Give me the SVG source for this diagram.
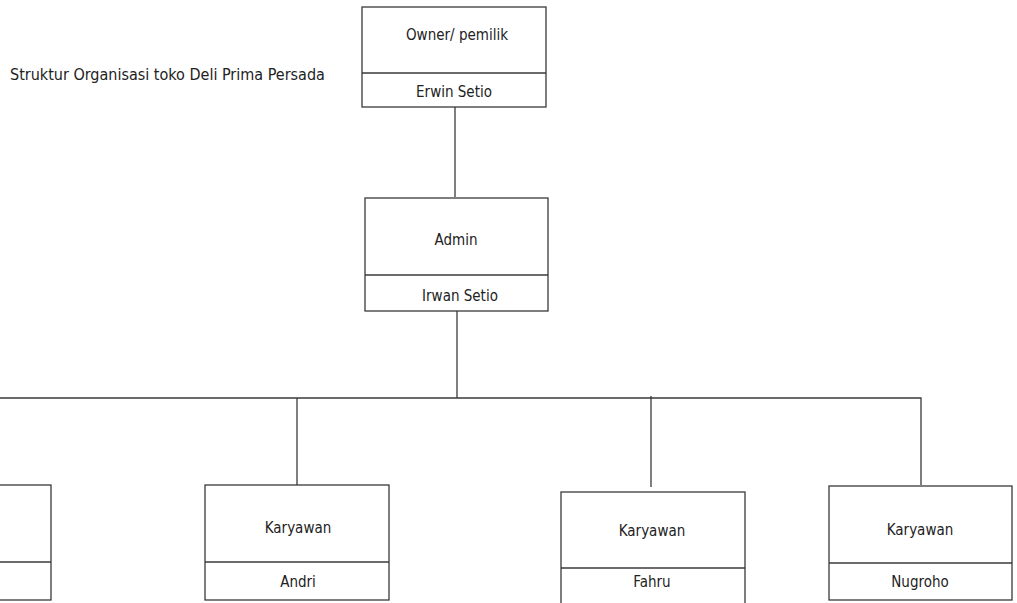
<svg xmlns="http://www.w3.org/2000/svg" width="1017" height="603" viewBox="0 0 1017 603">
<style>
.box{fill:#fff;stroke:#3a3a3a;stroke-width:1.3}
.div{stroke:#3a3a3a;stroke-width:1.3}
.con{stroke:#3a3a3a;stroke-width:1.3;fill:none}
text{font-family:"DejaVu Sans Condensed","DejaVu Sans","Liberation Sans",sans-serif;font-stretch:condensed;font-size:15px;fill:#222}
.c{text-anchor:middle}
.t{font-size:16px}
</style>
<rect width="1017" height="603" fill="#fff"/>
<text class="t" x="10" y="80">Struktur Organisasi toko Deli Prima Persada</text>
<g id="connectors">
<line class="con" x1="455" y1="107" x2="455" y2="197"/>
<line class="con" x1="457" y1="311" x2="457" y2="398"/>
<polyline class="con" points="0,398 921,398 921,485"/>
<line class="con" x1="297" y1="398" x2="297" y2="485"/>
<line class="con" x1="651" y1="396" x2="651" y2="487"/>
</g>
<g id="owner">
<rect class="box" x="362" y="7" width="184" height="100"/>
<line class="div" x1="362" y1="73" x2="546" y2="73"/>
<text class="c" x="457" y="40">Owner/ pemilik</text>
<text class="c" x="454" y="97">Erwin Setio</text>
</g>
<g id="admin">
<rect class="box" x="365" y="198" width="183" height="113"/>
<line class="div" x1="365" y1="275" x2="548" y2="275"/>
<text class="c" x="456" y="245">Admin</text>
<text class="c" x="460" y="301">Irwan Setio</text>
</g>
<g id="left">
<rect class="box" x="-20" y="485" width="71" height="115"/>
<line class="div" x1="-20" y1="562" x2="51" y2="562"/>
</g>
<g id="andri">
<rect class="box" x="205" y="485" width="184" height="115"/>
<line class="div" x1="205" y1="562" x2="389" y2="562"/>
<text class="c" x="298" y="533">Karyawan</text>
<text class="c" x="298" y="587">Andri</text>
</g>
<g id="fahru">
<rect class="box" x="561" y="492" width="184" height="120"/>
<line class="div" x1="561" y1="568" x2="745" y2="568"/>
<text class="c" x="652" y="536">Karyawan</text>
<text class="c" x="652" y="587">Fahru</text>
</g>
<g id="nugroho">
<rect class="box" x="829" y="486" width="183" height="114"/>
<line class="div" x1="829" y1="563" x2="1012" y2="563"/>
<text class="c" x="920" y="535">Karyawan</text>
<text class="c" x="920" y="587">Nugroho</text>
</g>
</svg>
